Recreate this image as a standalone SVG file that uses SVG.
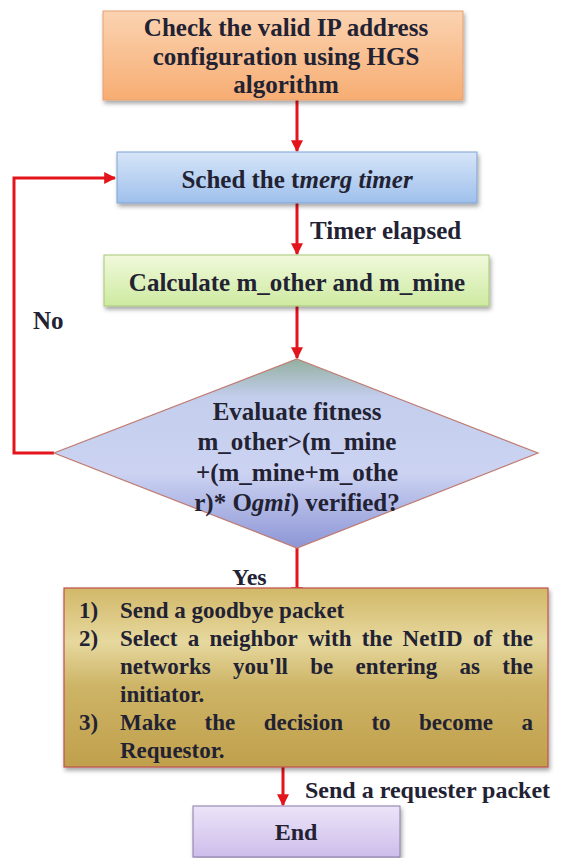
<svg xmlns="http://www.w3.org/2000/svg" width="570" height="858" viewBox="0 0 570 858">
<defs>
<linearGradient id="gOrange" x1="0" y1="0" x2="0" y2="1"><stop offset="0" stop-color="#fbd3b1"/><stop offset="1" stop-color="#f7ad72"/></linearGradient>
<linearGradient id="gBlue" x1="0" y1="0" x2="0" y2="1"><stop offset="0" stop-color="#d6e5f8"/><stop offset="1" stop-color="#9fc0ec"/></linearGradient>
<linearGradient id="gGreen" x1="0" y1="0" x2="0" y2="1"><stop offset="0" stop-color="#f1f9dc"/><stop offset="1" stop-color="#cdeaa0"/></linearGradient>
<linearGradient id="gDiamond" x1="0" y1="0" x2="0" y2="1"><stop offset="0" stop-color="#93b0a0"/><stop offset="0.2" stop-color="#c3cdec"/><stop offset="0.6" stop-color="#ccd3f2"/><stop offset="1" stop-color="#8d96d6"/></linearGradient>
<linearGradient id="gGold" x1="0" y1="0" x2="0" y2="1"><stop offset="0" stop-color="#d2b868"/><stop offset="0.3" stop-color="#e6d89e"/><stop offset="0.55" stop-color="#cdb466"/><stop offset="1" stop-color="#c0a04c"/></linearGradient>
<linearGradient id="gPurple" x1="0" y1="0" x2="0" y2="1"><stop offset="0" stop-color="#ece4f8"/><stop offset="1" stop-color="#cdbdeb"/></linearGradient>
<filter id="sh" x="-5%" y="-10%" width="112%" height="130%"><feDropShadow dx="1.5" dy="3" stdDeviation="2" flood-color="#000" flood-opacity="0.35"/></filter>
<marker id="ah" viewBox="0 0 10 10" refX="9" refY="5" markerWidth="4" markerHeight="4" orient="auto" markerUnits="strokeWidth"><path d="M0,0 L10,5 L0,10 z" fill="#e3141c"/></marker>
</defs>
<style>
text{font-family:"Liberation Serif","Times New Roman",serif;font-weight:bold;fill:#222233;}
.t25{font-size:25px;}
.t24{font-size:24px;}
.t23{font-size:23px;}
.c{text-anchor:middle;}
.e{text-anchor:end;}
.conn line,.conn polyline{stroke:#e3141c;stroke-width:3;fill:none;}
</style>
<rect width="570" height="858" fill="#ffffff"/>

<g id="connectors" class="conn">
<line x1="297" y1="100" x2="297" y2="151" marker-end="url(#ah)"/>
<line x1="297" y1="203" x2="297" y2="254" marker-end="url(#ah)"/>
<line x1="297" y1="306" x2="297" y2="358" marker-end="url(#ah)"/>
<polyline points="54,453 14,453 14,178 115,178" marker-end="url(#ah)"/>
<line x1="297" y1="548" x2="297" y2="598" marker-end="url(#ah)"/>
<line x1="283" y1="767" x2="283" y2="805" marker-end="url(#ah)"/>
</g>

<g id="n_check">
<rect x="103" y="11" width="360" height="89" fill="url(#gOrange)" stroke="#e8a070" stroke-width="1" filter="url(#sh)"/>
<text class="t25 c" x="286" y="36">Check the valid IP address</text>
<text class="t25 c" x="286" y="65">configuration using HGS</text>
<text class="t25 c" x="286" y="93">algorithm</text>
</g>

<g id="n_sched">
<rect x="117" y="152" width="360" height="51" fill="url(#gBlue)" stroke="#7fa3d4" stroke-width="1" filter="url(#sh)"/>
<text class="t25 c" x="297" y="188">Sched the t<tspan font-style="italic">merg timer</tspan></text>
</g>

<text class="t25" x="310" y="239">Timer elapsed</text>

<g id="n_calc">
<rect x="104" y="255" width="385" height="51" fill="url(#gGreen)" stroke="#a8c878" stroke-width="1" filter="url(#sh)"/>
<text class="t25 c" x="297" y="291">Calculate m_other and m_mine</text>
</g>

<text class="t25" x="33" y="329">No</text>

<g id="n_eval">
<polygon points="297,359 538,453 297,548 54,453" fill="url(#gDiamond)" stroke="#c07a70" stroke-width="1.2"/>
<text class="t25 c" x="297" y="420">Evaluate fitness</text>
<text class="t25 c" x="297" y="450">m_other&gt;(m_mine</text>
<text class="t25 c" x="297" y="481">+(m_mine+m_othe</text>
<text class="t25 c" x="297" y="511">r)* O<tspan font-style="italic">gmi</tspan>) verified?</text>
</g>

<text class="t24" x="232" y="585">Yes</text>

<g id="n_actions">
<rect x="64" y="588" width="484" height="179" fill="url(#gGold)" stroke="#c0504d" stroke-width="1.2" filter="url(#sh)"/>
<text class="t23" x="79" y="618">1)</text>
<text class="t23" x="120" y="618">Send a goodbye packet</text>
<text class="t23" x="79" y="646">2)</text>
<text class="t23" y="646"><tspan x="120">Select</tspan><tspan x="187.8">a</tspan><tspan x="209.5">neighbor</tspan><tspan x="308">with</tspan><tspan x="361.7">the</tspan><tspan x="402.6">NetID</tspan><tspan x="472.9">of</tspan></text>
<text class="t23 e" x="533" y="646">the</text>
<text class="t23" y="674"><tspan x="120">networks</tspan><tspan x="233">you'll</tspan><tspan x="310.3">be</tspan><tspan x="355.6">entering</tspan><tspan x="459.6">as</tspan></text>
<text class="t23 e" x="533" y="674">the</text>
<text class="t23" x="120" y="702">initiator.</text>
<text class="t23" x="79" y="730">3)</text>
<text class="t23" y="730"><tspan x="120">Make</tspan><tspan x="204.6">the</tspan><tspan x="263.7">decision</tspan><tspan x="371.4">to</tspan><tspan x="419">become</tspan></text>
<text class="t23 e" x="533" y="730">a</text>
<text class="t23" x="120" y="758">Requestor.</text>
</g>

<text class="t24" x="305" y="798">Send a requester packet</text>

<g id="n_end">
<rect x="193" y="806" width="207" height="51" fill="url(#gPurple)" stroke="#8a7aa8" stroke-width="1" filter="url(#sh)"/>
<text class="t24 c" x="296" y="840">End</text>
</g>
</svg>
